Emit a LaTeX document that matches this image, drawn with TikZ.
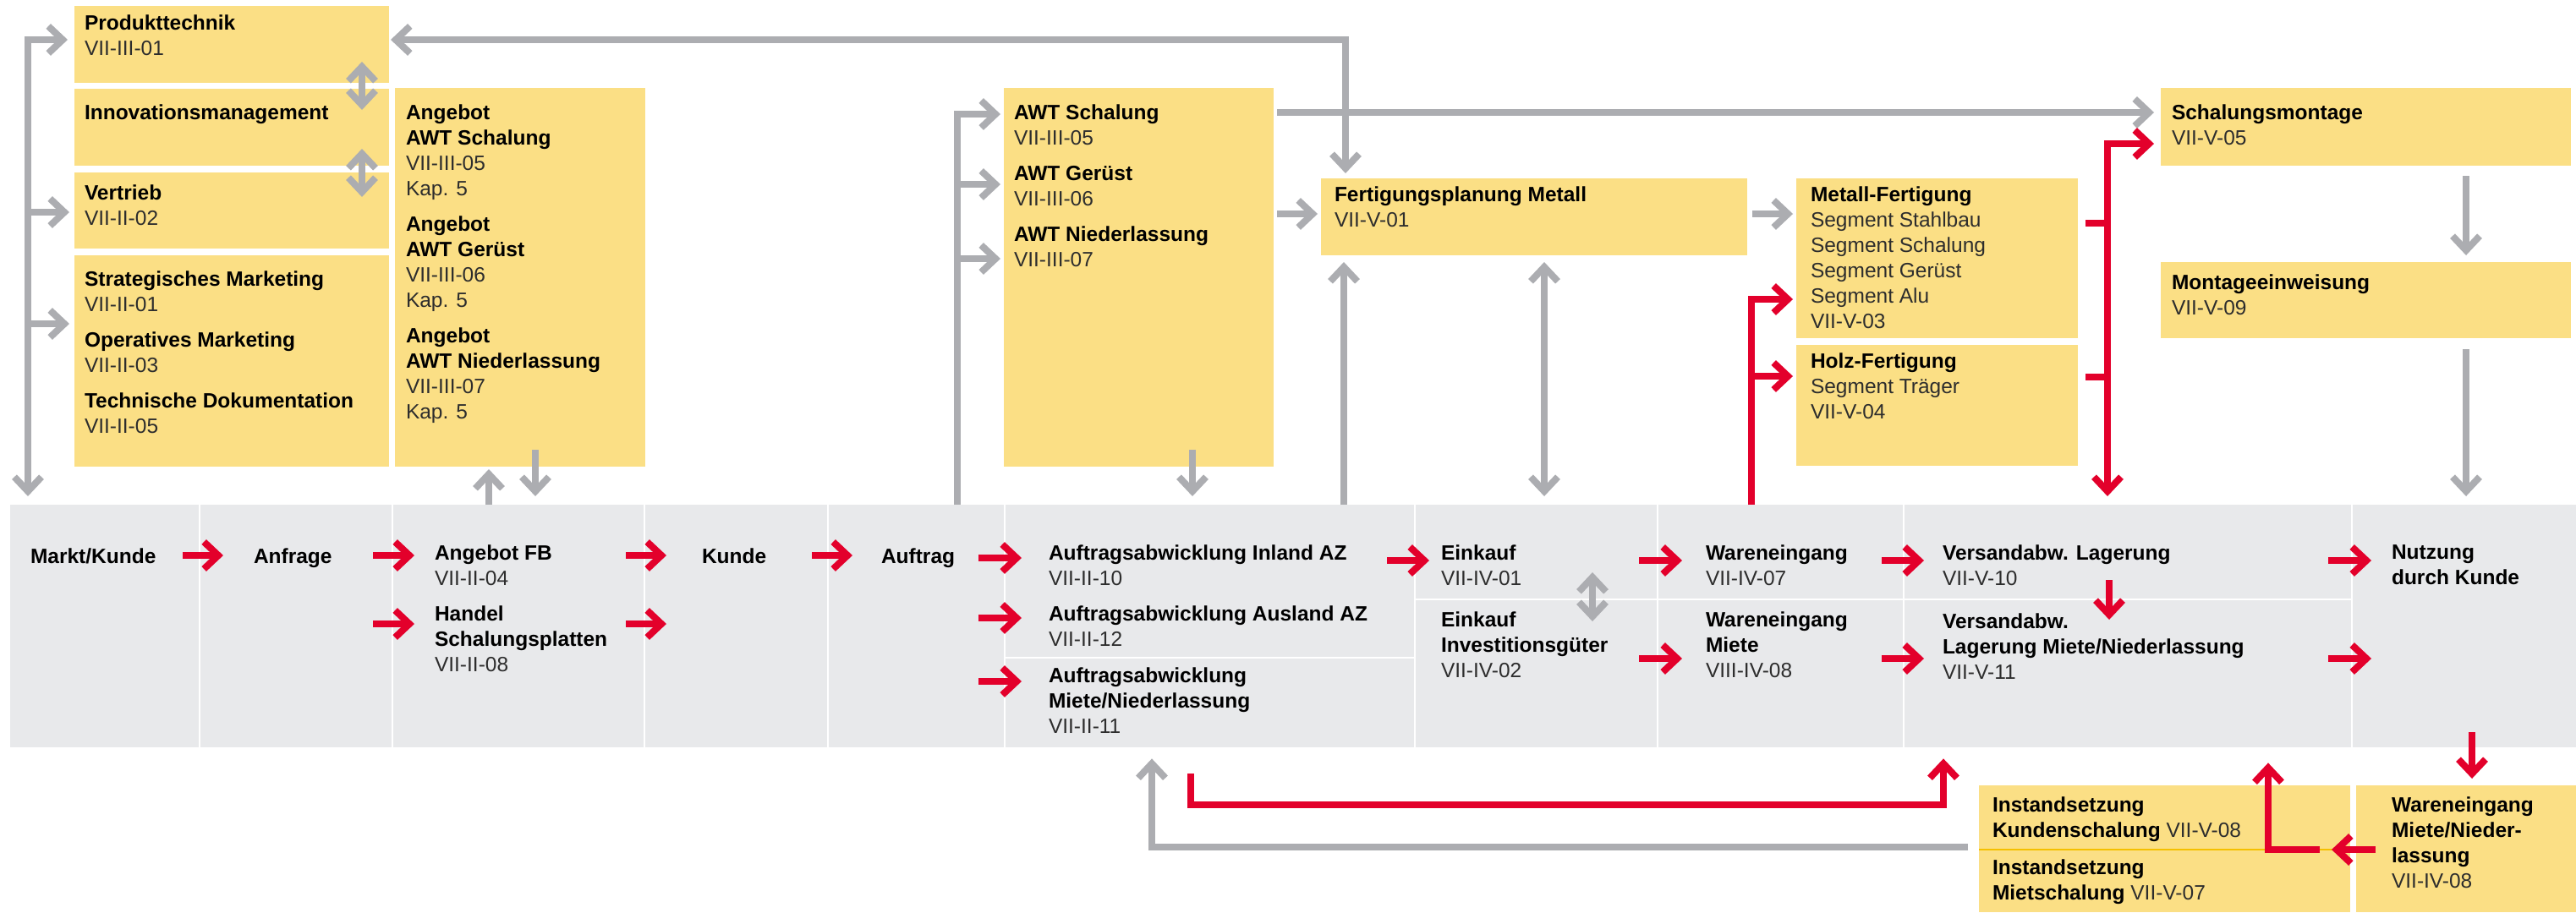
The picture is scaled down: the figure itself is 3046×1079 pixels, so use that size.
\documentclass[tikz,border=0pt]{standalone}
\usepackage{fontspec}
\setmainfont{Liberation Sans}
\usetikzlibrary{arrows.meta}
\definecolor{cyel}{RGB}{251,223,133}
\definecolor{cband}{RGB}{232,233,235}
\definecolor{cgray}{RGB}{172,173,177}
\definecolor{cred}{RGB}{227,0,43}
\definecolor{cline}{RGB}{245,192,0}
\definecolor{ctxt}{RGB}{45,45,45}
\newcommand{\cd}[1]{{\color{ctxt}#1}}
\begin{document}
\begin{tikzpicture}[x=1pt,y=-1pt,
  box/.style={fill=cyel, anchor=north west, inner sep=0pt, outer sep=0pt},
  tx/.style={anchor=north west, inner sep=0pt, outer sep=0pt, align=left, yshift=18pt,
     font=\fontsize{24.5}{30}\selectfont, execute at begin node=\strut},
  garr/.style={draw=cgray, line width=8pt},
  rarr/.style={draw=cred, line width=8pt},
  divl/.style={draw=white, line width=2pt},
  >={Straight Barb[length=17pt,width=32pt]}]
\useasboundingbox (0,0) rectangle (3046,1079);
\fill[white] (0,0) rectangle (3046,1079);

% ---------- band ----------
\node[fill=cband, anchor=north west, inner sep=0pt, minimum width=3034pt, minimum height=287pt] (band) at (12,597) {};
\foreach \x in {236,464,762,979,1188,1673,1960,2251,2781}
  \draw[divl] (\x,597) -- (\x,884);
\draw[divl] (1188,778) -- (1673,778);
\draw[divl] (1673,709) -- (2781,709);

% ---------- yellow boxes ----------
\node[box, minimum width=372pt, minimum height=91pt] (prod) at (88,7) {};
\node[box, minimum width=372pt, minimum height=91pt] (innov) at (88,105) {};
\node[box, minimum width=372pt, minimum height=90pt] (vert) at (88,204) {};
\node[box, minimum width=372pt, minimum height=250pt] (strat) at (88,302) {};
\node[box, minimum width=296pt, minimum height=448pt] (angawt) at (467,104) {};
\node[box, minimum width=319pt, minimum height=448pt] (awt) at (1187,104) {};
\node[box, minimum width=504pt, minimum height=91pt] (fert) at (1562,211) {};
\node[box, minimum width=485pt, minimum height=92pt] (schal) at (2555,104) {};
\node[box, minimum width=333pt, minimum height=189pt] (metall) at (2124,211) {};
\node[box, minimum width=333pt, minimum height=143pt] (holz) at (2124,408) {};
\node[box, minimum width=485pt, minimum height=90pt] (montage) at (2555,310) {};
\node[box, minimum width=439pt, minimum height=150pt] (inst) at (2340,929) {};
\node[box, minimum width=260pt, minimum height=150pt] (wem) at (2786,929) {};
\draw[cline, line width=2pt] (inst.west |- 0,1005) -- (inst.east |- 0,1005);

% ---------- texts ----------
\node[tx] (tprod) at (100,36) {\textbf{Produkttechnik}\\\cd{VII-III-01}};
\node[tx] (tinnov) at (100,138) {\textbf{Innovationsmanagement}};
\node[tx] (tvert) at (100,237) {\textbf{Vertrieb}\\\cd{VII-II-02}};
\node[tx] (tstrat) at (100,339) {\textbf{Strategisches Marketing}\\\cd{VII-II-01}\\[12pt]\textbf{Operatives Marketing}\\\cd{VII-II-03}\\[12pt]\textbf{Technische Dokumentation}\\\cd{VII-II-05}};
\node[tx] (tangawt) at (480,142) {\textbf{Angebot}\\\textbf{AWT Schalung}\\\cd{VII-III-05}\\\cd{Kap. 5}\\[12pt]\textbf{Angebot}\\\textbf{AWT Gerüst}\\\cd{VII-III-06}\\\cd{Kap. 5}\\[12pt]\textbf{Angebot}\\\textbf{AWT Niederlassung}\\\cd{VII-III-07}\\\cd{Kap. 5}};
\node[tx] (tawt) at (1199,142) {\textbf{AWT Schalung}\\\cd{VII-III-05}\\[12pt]\textbf{AWT Gerüst}\\\cd{VII-III-06}\\[12pt]\textbf{AWT Niederlassung}\\\cd{VII-III-07}};
\node[tx] (tfert) at (1578,239) {\textbf{Fertigungsplanung Metall}\\\cd{VII-V-01}};
\node[tx] (tschal) at (2568,142) {\textbf{Schalungsmontage}\\\cd{VII-V-05}};
\node[tx] (tmetall) at (2141,239) {\textbf{Metall-Fertigung}\\\cd{Segment Stahlbau}\\\cd{Segment Schalung}\\\cd{Segment Gerüst}\\\cd{Segment Alu}\\\cd{VII-V-03}};
\node[tx] (tholz) at (2141,436) {\textbf{Holz-Fertigung}\\\cd{Segment Träger}\\\cd{VII-V-04}};
\node[tx] (tmontage) at (2568,343) {\textbf{Montageeinweisung}\\\cd{VII-V-09}};

\node[tx] (tmarkt) at (36,663) {\textbf{Markt/Kunde}};
\node[tx] (tanfrage) at (300,663) {\textbf{Anfrage}};
\node[tx] (tangfb) at (514,663) {\textbf{Angebot FB}\\\cd{VII-II-04}\\[12pt]\textbf{Handel}\\\textbf{Schalungsplatten}\\\cd{VII-II-08}};
\node[tx] (tkunde) at (830,663) {\textbf{Kunde}};
\node[tx] (tauftrag) at (1042,663) {\textbf{Auftrag}};
\node[tx] (taa) at (1240,663) {\textbf{Auftragsabwicklung Inland AZ}\\\cd{VII-II-10}\\[12pt]\textbf{Auftragsabwicklung Ausland AZ}\\\cd{VII-II-12}\\[13pt]\textbf{Auftragsabwicklung}\\\textbf{Miete/Niederlassung}\\\cd{VII-II-11}};
\node[tx] (teink) at (1704,663) {\textbf{Einkauf}\\\cd{VII-IV-01}\\[19pt]\textbf{Einkauf}\\\textbf{Investitionsgüter}\\\cd{VII-IV-02}};
\node[tx] (tware) at (2017,663) {\textbf{Wareneingang}\\\cd{VII-IV-07}\\[19pt]\textbf{Wareneingang}\\\textbf{Miete}\\\cd{VIII-IV-08}};
\node[tx] (tversand) at (2297,663) {\textbf{Versandabw. Lagerung}\\\cd{VII-V-10}\\[21pt]\textbf{Versandabw.}\\\textbf{Lagerung Miete/Niederlassung}\\\cd{VII-V-11}};
\node[tx] (tnutz) at (2828,663) {\textbf{Nutzung}\\\textbf{durch Kunde}};
\node[tx] (tinst) at (2356,961) {\textbf{Instandsetzung}\\\textbf{Kundenschalung} \cd{VII-V-08}\\[14pt]\textbf{Instandsetzung}\\\textbf{Mietschalung} \cd{VII-V-07}};
\node[tx] (twem) at (2828,961) {\textbf{Wareneingang}\\\textbf{Miete/Nieder-}\\\textbf{lassung}\\\cd{VII-IV-08}};

% ---------- gray connectors ----------
\draw[garr,<->,shorten <=8pt,shorten >=10pt] (prod.west |- 0,47) -| (33,0 |- band.north);
\draw[garr,->,shorten >=6pt] (33,251) -- (vert.west |- 0,251);
\draw[garr,->,shorten >=6pt] (33,383) -- (strat.west |- 0,383);
\draw[garr,<->] (428,73) -- (428,130);
\draw[garr,<->] (428,176) -- (428,233);
\draw[garr,->,shorten >=3pt] (578,0 |- band.north) -- (578,0 |- angawt.south);
\draw[garr,->,shorten >=10pt] (633,532) -- (633,0 |- band.north);
\draw[garr,<->,shorten <=2pt,shorten >=6pt] (prod.east |- 0,47) -| (1591,0 |- fert.north);
\draw[garr,->,shorten >=4pt] (1132,0 |- band.north) |- (awt.west |- 0,135);
\draw[garr,->,shorten >=4pt] (1132,218) -- (awt.west |- 0,218);
\draw[garr,->,shorten >=4pt] (1132,306) -- (awt.west |- 0,306);
\draw[garr,->,shorten >=10pt] (1410,532) -- (1410,0 |- band.north);
\draw[garr,->,shorten <=4pt,shorten >=8pt] (awt.east |- 0,133) -- (schal.west |- 0,133);
\draw[garr,->,shorten <=4pt,shorten >=4pt] (awt.east |- 0,253) -- (fert.west |- 0,253);
\draw[garr,->,shorten >=8pt] (1589,0 |- band.north) -- (1589,0 |- fert.south);
\draw[garr,<->,shorten <=8pt,shorten >=10pt] (1826,0 |- fert.south) -- (1826,0 |- band.north);
\draw[garr,->,shorten <=6pt,shorten >=4pt] (fert.east |- 0,253) -- (metall.west |- 0,253);
\draw[garr,->,shorten <=12pt,shorten >=8pt] (2916,0 |- schal.south) -- (2916,0 |- montage.north);
\draw[garr,->,shorten <=13pt,shorten >=10pt] (2916,0 |- montage.south) -- (2916,0 |- band.north);
\draw[garr,<->] (1883,677) -- (1883,735);
\draw[garr,->,shorten <=13pt,shorten >=13pt] (inst.west |- 0,1002) -| (1362,0 |- band.south);

% ---------- red connectors ----------
\draw[rarr,->,shorten >=4pt] (2071,0 |- band.north) |- (metall.west |- 0,354);
\draw[rarr,->,shorten >=4pt] (2071,445) -- (holz.west |- 0,445);
\draw[rarr,shorten <=9pt] (metall.east |- 0,264) -- (2495,264);
\draw[rarr,shorten <=9pt] (holz.east |- 0,446) -- (2495,446);
\draw[rarr,<->,shorten <=8pt,shorten >=10pt] (schal.west |- 0,170) -| (2492,0 |- band.north);
\foreach \a/\b/\y in {216/264/657, 441/490/657, 441/490/738, 740/788/657, 740/788/738, 960/1008/657,
  1157/1208/660, 1157/1208/731, 1157/1208/806, 1640/1690/663, 1938/1989/663, 1938/1989/779,
  2225/2275/663, 2225/2275/779, 2753/2804/663, 2753/2804/779}
  \draw[rarr,->] (\a,\y) -- (\b,\y);
\draw[rarr,->] (2494,686) -- (2494,733);
\draw[rarr,->,shorten >=13pt] (1408,915) |- (2298,952) -- (2298,0 |- band.south);
\draw[rarr,->,shorten >=8pt] (2923,866) -- (2923,0 |- wem.north);
\draw[rarr,->] (2809,1005) -- (2757,1005);
\draw[rarr,->,shorten >=18pt] (2743,1005) -| (2682,0 |- band.south);
\end{tikzpicture}
\end{document}
